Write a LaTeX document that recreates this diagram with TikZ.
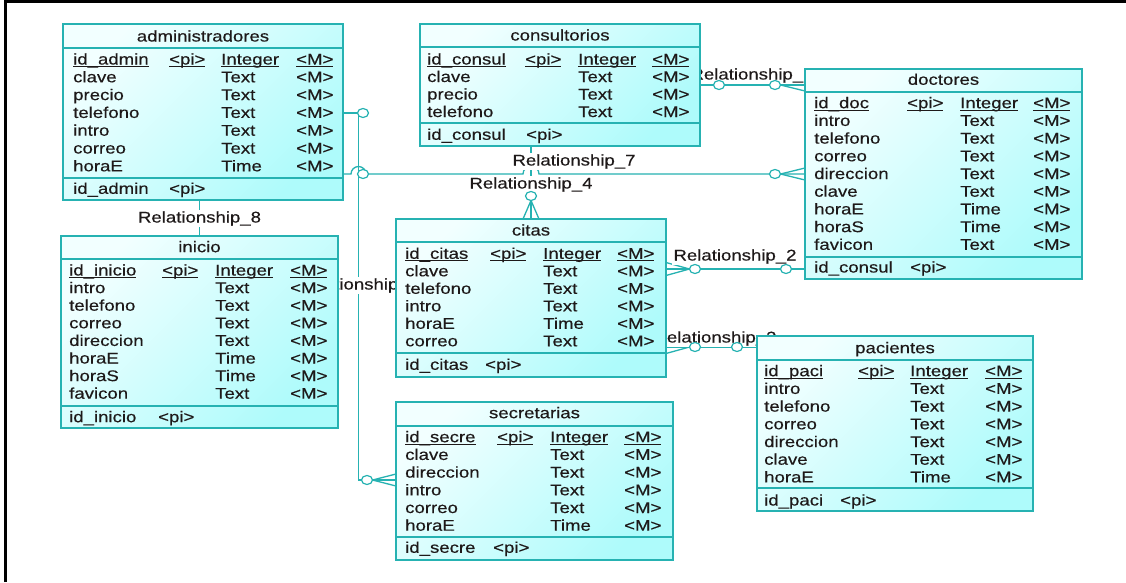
\documentclass[tikz,border=0pt]{standalone}
\usepackage{fontspec}
\setmainfont{Liberation Sans}[FakeStretch=1.2,FakeBold=0.35]
\usetikzlibrary{shapes.geometric}
\pgfdeclarelayer{back}
\pgfdeclarelayer{bg}
\pgfsetlayers{back,bg,main}
\definecolor{teal2}{RGB}{38,178,178}
\definecolor{boxA}{RGB}{242,255,255}
\definecolor{boxB}{RGB}{174,251,251}
\definecolor{textc}{RGB}{30,25,25}
\newcommand\tabfont{\fontsize{15.5}{18}\selectfont}
\newcommand\ulx[1]{\setbox0\hbox{#1}\rlap{\rule[-2.3pt]{\wd0}{0.8pt}}\box0}
\newcount\tn
\newcommand\tx[3]{\global\advance\tn by 1 \node[txt] (tx\the\tn) at (#1,#2) {#3};}
\newcommand\cols[4]{\def\cA{#1}\def\cB{#2}\def\cC{#3}\def\cD{#4}}
\newcommand\krow[2]{\tx{\cA}{#1}{\ulx{#2}}\tx{\cB}{#1}{\ulx{<pi>}}\tx{\cC}{#1}{\ulx{Integer}}\tx{\cD}{#1}{\ulx{<M>}}}
\newcommand\arow[3]{\tx{\cA}{#1}{#2}\tx{\cC}{#1}{#3}\tx{\cD}{#1}{<M>}}
\newcommand\frow[3]{\tx{\cA}{#1}{#2}\tx{#3}{#1}{<pi>}}
\begin{document}
\begin{tikzpicture}[x=1pt,y=-1pt,
  every node/.style={font=\tabfont, text=textc},
  tbox/.style={rectangle, draw=teal2, line width=1.5pt, top color=boxA, bottom color=boxB, shading angle=45, anchor=north west, inner sep=0pt, outer sep=0pt},
  tline/.style={draw=teal2, line width=1.3pt},
  txt/.style={anchor=base west, yshift=-5.5pt, inner sep=0pt},
  ttl/.style={anchor=base, yshift=-5.5pt, inner sep=0pt},
  lbl/.style={anchor=base, yshift=-5.5pt, inner sep=1pt, fill=white},
  conn/.style={draw=teal2, line width=1.3pt},
  zero/.style={ellipse, draw=teal2, fill=white, line width=1.2pt, minimum width=11pt, minimum height=9pt, inner sep=0pt, outer sep=0pt}]
\useasboundingbox (0,0) rectangle (1126,582);
\begin{pgfonlayer}{back}
\fill[white] (0,0) rectangle (1126,582);
\draw[black, line width=2.6pt] (5.3,582) -- (5.3,1.3) -- (1126,1.3);
\end{pgfonlayer}

% administradores
\node[tbox, minimum width=280pt, minimum height=176pt] (admin) at (63,24) {};
\draw[tline] (admin.west |- 0,48) -- (admin.east |- 0,48);
\draw[tline] (admin.west |- 0,178) -- (admin.east |- 0,178);
\node[ttl] (admin-title) at (203,36) {administradores};
\cols{73}{169}{221}{296}
\krow{59}{id\_admin}
\arow{76.8}{clave}{Text}
\arow{94.6}{precio}{Text}
\arow{112.4}{telefono}{Text}
\arow{130.2}{intro}{Text}
\arow{148}{correo}{Text}
\arow{165.8}{horaE}{Time}
\frow{188.3}{id\_admin}{169}

% consultorios
\node[tbox, minimum width=280pt, minimum height=122pt] (consult) at (420,24) {};
\draw[tline] (consult.west |- 0,47) -- (consult.east |- 0,47);
\draw[tline] (consult.west |- 0,123) -- (consult.east |- 0,123);
\node[ttl] (consult-title) at (560,35) {consultorios};
\cols{427}{525}{578}{652}
\krow{59}{id\_consul}
\arow{76.5}{clave}{Text}
\arow{94}{precio}{Text}
\arow{111.5}{telefono}{Text}
\frow{134.3}{id\_consul}{526}

% doctores
\node[tbox, minimum width=277pt, minimum height=210pt] (doctores) at (805,69) {};
\draw[tline] (doctores.west |- 0,92) -- (doctores.east |- 0,92);
\draw[tline] (doctores.west |- 0,257) -- (doctores.east |- 0,257);
\node[ttl] (doctores-title) at (943.5,79.3) {doctores};
\cols{814}{907}{960}{1033}
\krow{102.7}{id\_doc}
\arow{120.4}{intro}{Text}
\arow{138.1}{telefono}{Text}
\arow{155.8}{correo}{Text}
\arow{173.5}{direccion}{Text}
\arow{191.2}{clave}{Text}
\arow{208.9}{horaE}{Time}
\arow{226.6}{horaS}{Time}
\arow{244.3}{favicon}{Text}
\frow{267}{id\_consul}{910}

% inicio
\node[tbox, minimum width=277pt, minimum height=192pt] (inicio) at (61,236) {};
\draw[tline] (inicio.west |- 0,259) -- (inicio.east |- 0,259);
\draw[tline] (inicio.west |- 0,406) -- (inicio.east |- 0,406);
\node[ttl] (inicio-title) at (199.5,246.7) {inicio};
\cols{69}{162}{215}{290}
\krow{270}{id\_inicio}
\arow{287.6}{intro}{Text}
\arow{305.2}{telefono}{Text}
\arow{322.8}{correo}{Text}
\arow{340.4}{direccion}{Text}
\arow{358}{horaE}{Time}
\arow{375.6}{horaS}{Time}
\arow{393.2}{favicon}{Text}
\frow{416.7}{id\_inicio}{158}

% citas
\node[tbox, minimum width=270pt, minimum height=158pt] (citas) at (396,219) {};
\draw[tline] (citas.west |- 0,242) -- (citas.east |- 0,242);
\draw[tline] (citas.west |- 0,353) -- (citas.east |- 0,353);
\node[ttl] (citas-title) at (531,230) {citas};
\cols{405}{490}{543}{617}
\krow{253.3}{id\_citas}
\arow{270.8}{clave}{Text}
\arow{288.3}{telefono}{Text}
\arow{305.8}{intro}{Text}
\arow{323.3}{horaE}{Time}
\arow{340.8}{correo}{Text}
\frow{364.3}{id\_citas}{485}

% pacientes
\node[tbox, minimum width=276pt, minimum height=175pt] (pacientes) at (757,336) {};
\draw[tline] (pacientes.west |- 0,360) -- (pacientes.east |- 0,360);
\draw[tline] (pacientes.west |- 0,488) -- (pacientes.east |- 0,488);
\node[ttl] (pacientes-title) at (895,347.7) {pacientes};
\cols{764}{858}{910}{985}
\krow{370.7}{id\_paci}
\arow{388.4}{intro}{Text}
\arow{406.1}{telefono}{Text}
\arow{423.8}{correo}{Text}
\arow{441.5}{direccion}{Text}
\arow{459.2}{clave}{Text}
\arow{476.9}{horaE}{Time}
\frow{500}{id\_paci}{840}

% secretarias
\node[tbox, minimum width=277pt, minimum height=158pt] (secret) at (396,402) {};
\draw[tline] (secret.west |- 0,426) -- (secret.east |- 0,426);
\draw[tline] (secret.west |- 0,537) -- (secret.east |- 0,537);
\node[ttl] (secret-title) at (534.5,412.7) {secretarias};
\cols{405}{497}{550}{624}
\krow{436.7}{id\_secre}
\arow{454.4}{clave}{Text}
\arow{472.1}{direccion}{Text}
\arow{489.8}{intro}{Text}
\arow{507.5}{correo}{Text}
\arow{525.2}{horaE}{Time}
\frow{547.3}{id\_secre}{493}

% zero-cardinality circles
\node[zero] (z5a) at (363,113) {};
\node[zero] (z5b) at (367,480) {};
\node[zero] (z7a) at (363,174) {};
\node[zero] (z7b) at (775,174) {};
\node[zero] (z4) at (531,196) {};
\node[zero] (z1a) at (719,85) {};
\node[zero] (z1b) at (775,85) {};
\node[zero] (z2a) at (695,269) {};
\node[zero] (z2b) at (786,269) {};
\node[zero] (z3a) at (695,347) {};
\node[zero] (z3b) at (737,347) {};

\begin{pgfonlayer}{bg}
% Relationship_8
\draw[conn] (admin.south -| inicio.north) -- (inicio.north);
% admin - secretarias
\coordinate (c5a) at (358.5,113);
\coordinate (c5b) at (358.5,480);
\draw[conn] (admin.east |- c5a) -- (c5a) -- (c5b) -- (secret.west |- c5b);
\draw[conn] (z5b.east) -- (secret.west |- 0,474);
\draw[conn] (z5b.east) -- (secret.west |- 0,486);
% Relationship_7
\coordinate (h7a) at (351,174);
\coordinate (h7b) at (523,174);
\draw[conn] (admin.east |- h7a) -- (h7a) arc[start angle=180, end angle=0, radius=7.5pt] -- (h7b) arc[start angle=180, end angle=0, radius=8pt] -- (doctores.west |- h7a);
\draw[conn] (z7b.east) -- (doctores.west |- 0,168);
\draw[conn] (z7b.east) -- (doctores.west |- 0,180);
% Relationship_4
\draw[conn] (consult.south -| citas.north) -- (citas.north);
\draw[conn] (z4.south) -- (citas.north -| 523,0);
\draw[conn] (z4.south) -- (citas.north -| 539,0);
% Relationship_1
\draw[conn] (consult.east |- 0,85) -- (doctores.west |- 0,85);
\draw[conn] (z1b.east) -- (doctores.west |- 0,79);
\draw[conn] (z1b.east) -- (doctores.west |- 0,91);
% Relationship_2
\draw[conn] (citas.east |- 0,269) -- (doctores.west |- 0,269);
\draw[conn] (citas.east |- 0,262.5) -- (z2a.west);
\draw[conn] (citas.east |- 0,275.5) -- (z2a.west);
% Relationship_3
\draw[conn] (citas.east |- 0,347) -- (pacientes.west |- 0,347);
\draw[conn] (citas.east |- 0,340.5) -- (z3a.west);
\draw[conn] (citas.east |- 0,353.5) -- (z3a.west);
% labels
\node[lbl] (l8) at (199.5,217) {Relationship\_8};
\node[lbl] (l5) at (357.5,284) {Relationship\phantom{\_5}};
\node[lbl] (l7) at (574,160) {Relationship\_7};
\node[lbl] (l4) at (531,183) {Relationship\_4};
\node[lbl] (l1) at (752,74) {Relationship\_\phantom{1}};
\node[lbl] (l2) at (735,255) {Relationship\_2};
\node[lbl] (l3) at (715,337) {Relationship\_3};
\end{pgfonlayer}
\end{tikzpicture}
\end{document}
